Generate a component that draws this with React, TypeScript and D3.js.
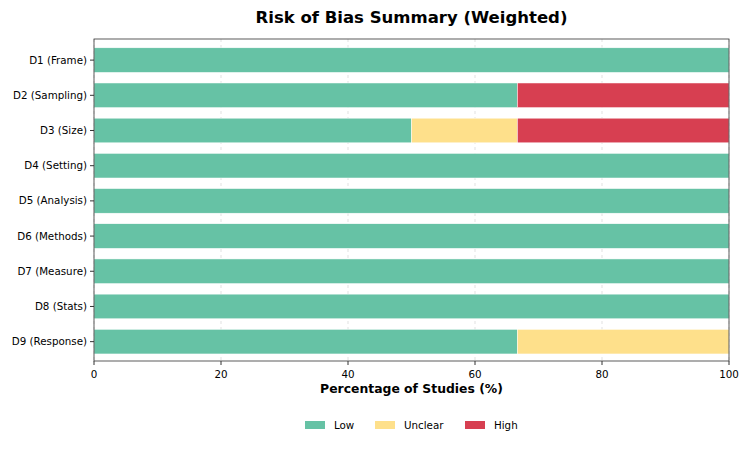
import React, { useRef, useEffect } from 'react';
import * as d3 from 'd3';

const domains = [
  'D1 (Frame)',
  'D2 (Sampling)',
  'D3 (Size)',
  'D4 (Setting)',
  'D5 (Analysis)',
  'D6 (Methods)',
  'D7 (Measure)',
  'D8 (Stats)',
  'D9 (Response)',
];
const lowPct = [100, 66.67, 50, 100, 100, 100, 100, 100, 66.67];
const unclearPct = [0, 0, 16.67, 0, 0, 0, 0, 0, 33.33];
const highPct = [0, 33.33, 33.33, 0, 0, 0, 0, 0, 0];
const xTicks = [0, 20, 40, 60, 80, 100];

const levels = [
  { key: 'Low', values: lowPct, color: '#66c2a5' },
  { key: 'Unclear', values: unclearPct, color: '#fee08b' },
  { key: 'High', values: highPct, color: '#d73f51' },
];

const FONT = 'DejaVu Sans, sans-serif';

export default function App() {
  const ref = useRef<SVGSVGElement>(null);

  useEffect(() => {
    const svg = d3.select(ref.current);
    svg.selectAll('*').remove();

    const W = 750;
    const H = 450;
    const m = { top: 39, right: 21, bottom: 89, left: 94 };
    const iw = W - m.left - m.right;
    const ih = H - m.top - m.bottom;

    const x = d3.scaleLinear().domain([0, 100]).range([0, iw]);
    const y = d3.scaleLinear().domain([-0.6, domains.length - 1 + 0.55]).range([0, ih]);
    const barH = y(0.7) - y(0);

    const g = svg.append('g').attr('transform', `translate(${m.left},${m.top})`);

    // grid
    g.selectAll('.grid')
      .data(xTicks)
      .enter()
      .append('line')
      .attr('x1', (d) => x(d))
      .attr('x2', (d) => x(d))
      .attr('y1', 0)
      .attr('y2', ih)
      .attr('stroke', '#d9d9d9')
      .attr('stroke-width', 0.8)
      .attr('stroke-dasharray', '3,3');

    // stacked bars
    levels.forEach((lv, li) => {
      g.selectAll(`.bar-${li}`)
        .data(lv.values)
        .enter()
        .append('rect')
        .attr('x', (_, i) => x(levels.slice(0, li).reduce((s, l) => s + l.values[i], 0)))
        .attr('y', (_, i) => y(i) - barH / 2)
        .attr('width', (d) => Math.max(0, x(d) - x(0)))
        .attr('height', barH)
        .attr('fill', lv.color)
        .attr('stroke', '#ffffff')
        .attr('stroke-width', 0.5)
        .attr('display', (d) => (d > 0 ? null : 'none'));
    });

    // frame
    g.append('rect')
      .attr('width', iw)
      .attr('height', ih)
      .attr('fill', 'none')
      .attr('stroke', '#333')
      .attr('stroke-width', 0.8);

    // x ticks
    const xt = g.append('g').attr('transform', `translate(0,${ih})`);
    xTicks.forEach((t) => {
      xt.append('line').attr('x1', x(t)).attr('x2', x(t)).attr('y1', 0).attr('y2', 4).attr('stroke', '#333');
      xt.append('text')
        .attr('x', x(t))
        .attr('y', 17)
        .attr('text-anchor', 'middle')
        .attr('font-family', FONT)
        .attr('font-size', 10.3)
        .attr('fill', '#000')
        .text(t);
    });

    // y ticks
    domains.forEach((d, i) => {
      g.append('line').attr('x1', -4).attr('x2', 0).attr('y1', y(i)).attr('y2', y(i)).attr('stroke', '#333');
      g.append('text')
        .attr('x', -7)
        .attr('y', y(i))
        .attr('dy', '0.35em')
        .attr('text-anchor', 'end')
        .attr('font-family', FONT)
        .attr('font-size', 10.3)
        .attr('fill', '#000')
        .text(d);
    });

    svg.append('text')
      .attr('x', m.left + iw / 2)
      .attr('y', 393)
      .attr('text-anchor', 'middle')
      .attr('font-family', FONT)
      .attr('font-size', 12.4)
      .attr('font-weight', 'bold')
      .text('Percentage of Studies (%)');

    svg.append('text')
      .attr('x', m.left + iw / 2)
      .attr('y', 23)
      .attr('text-anchor', 'middle')
      .attr('font-family', FONT)
      .attr('font-size', 16.5)
      .attr('font-weight', 'bold')
      .text('Risk of Bias Summary (Weighted)');

    // legend
    const legX = [305, 375, 465];
    const leg = svg.append('g').attr('transform', 'translate(0,425)');
    levels.forEach((lv, i) => {
      leg.append('rect')
        .attr('x', legX[i])
        .attr('y', -4)
        .attr('width', 20)
        .attr('height', 8)
        .attr('fill', lv.color);
      leg.append('text')
        .attr('x', legX[i] + 29)
        .attr('y', 0)
        .attr('dy', '0.35em')
        .attr('font-family', FONT)
        .attr('font-size', 10.3)
        .text(lv.key);
    });
  }, []);

  return (
    <svg ref={ref} width={750} height={450} style={{ position: 'absolute', left: 0, top: 0, background: '#fff' }} />
  );
}
